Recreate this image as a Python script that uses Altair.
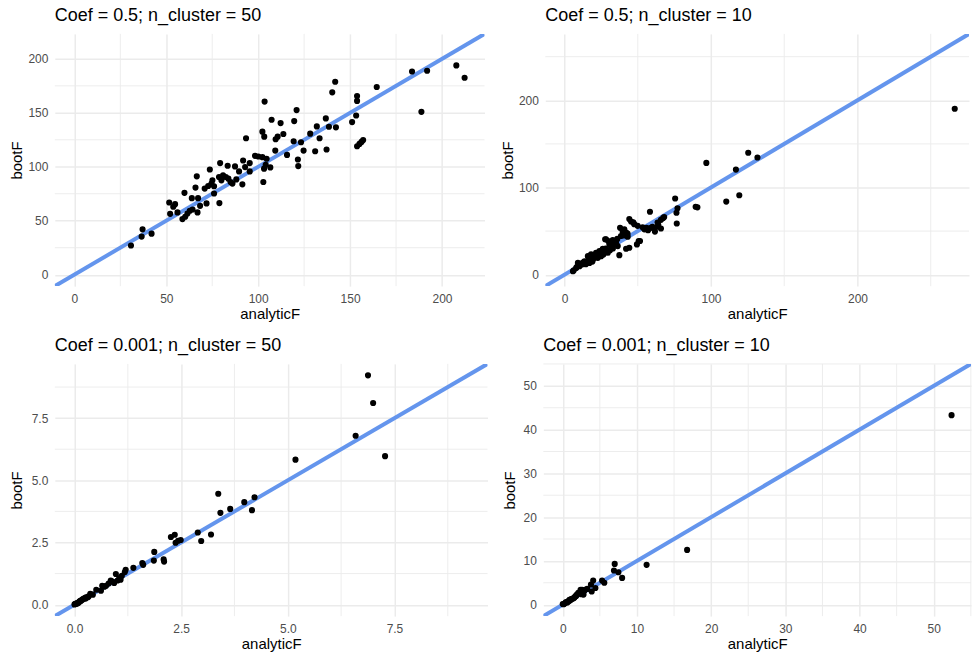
import altair as alt
import pandas as pd

FONT = "Liberation Sans"
GRID = "#EBEBEB"
LINE_BLUE = "#6495ED"

# ---- Panel 1: Coef = 0.5; n_cluster = 50 ----
p1_analytic = [30.8, 36.6, 37.1, 42.0, 51.6, 52.1, 53.8, 54.8, 56.1, 58.8, 59.9, 60.3, 61.5, 62.8,
               63.9, 64.3, 65.9, 66.6, 67.0, 67.3, 68.4, 70.9, 71.9, 72.8, 73.7, 74.6, 75.1, 76.0,
               76.0, 78.7, 78.9, 79.3, 80.0, 80.9, 82.4, 83.4, 83.8, 85.0, 86.0, 87.4, 88.1, 89.6,
               91.4, 91.8, 92.9, 93.4, 95.4, 95.4, 98.3, 100.1, 102.3, 102.3, 102.8, 103.2, 103.3,
               103.5, 104.1, 104.6, 106.6, 107.3, 109.3, 109.5, 110.6, 112.2, 113.7, 115.7, 119.3,
               119.6, 120.9, 121.6, 121.8, 123.3, 124.7, 128.3, 131.0, 131.9, 133.4, 136.8, 137.2,
               138.5, 140.3, 141.9, 142.3, 151.1, 153.3, 153.8, 153.8, 153.8, 155.1, 156.2, 157.1,
               164.5, 183.7, 188.8, 191.9, 207.8, 212.3]
p1_boot = [27.0, 35.3, 42.0, 38.0, 66.9, 56.4, 62.9, 65.3, 57.7, 51.5, 75.8, 53.7, 56.7, 59.2,
           70.9, 60.4, 80.7, 91.1, 57.7, 70.9, 63.8, 79.8, 66.0, 82.2, 97.5, 84.4, 87.4, 75.2,
           81.9, 90.5, 66.3, 103.4, 87.4, 92.0, 90.5, 100.9, 89.0, 85.9, 84.4, 100.3, 88.3, 95.7,
           83.7, 105.8, 99.7, 126.4, 103.4, 95.7, 110.1, 109.5, 108.9, 132.5, 85.9, 98.2, 127.9,
           160.4, 101.8, 107.4, 99.4, 143.6, 115.0, 125.5, 127.9, 140.5, 130.4, 111.0, 123.6,
           142.3, 152.5, 106.7, 100.6, 122.7, 115.0, 130.7, 114.4, 137.4, 126.4, 144.8, 116.0,
           137.1, 169.0, 178.8, 136.5, 141.4, 147.5, 165.6, 161.0, 119.0, 121.2, 123.0, 124.8,
           173.9, 188.3, 150.9, 189.0, 193.9, 182.5]

# ---- Panel 2: Coef = 0.5; n_cluster = 10 ----
p2_analytic = [266.4, 96.8, 125.4, 131.7, 117.0, 119.3, 110.4, 90.7, 89.5, 75.5, 77.1, 76.4, 76.6,
               58.3, 67.3, 65.8, 63.5, 61.7, 65.8, 59.0, 56.0, 53.3, 49.9, 47.6, 44.2, 45.4, 50.6,
               49.4, 44.2, 42.0, 37.9, 40.8, 42.0, 43.1, 38.5, 37.4, 35.1, 32.9, 31.7, 28.3, 29.5,
               26.1, 23.8, 21.5, 20.4, 18.1, 17.0, 15.9, 13.6, 11.8, 10.2, 7.9, 6.3, 5.7, 9.1, 24.9,
               22.7, 27.2, 19.3, 30.6, 36.3, 39.7, 46.9, 40.1, 51.5, 33.3, 29.9, 27.7, 14.5, 12.5,
               8.5, 16.5, 19.0, 21.0, 23.0, 25.0, 26.5, 28.0, 31.0, 33.0, 34.5, 36.0, 41.0, 43.0,
               54.5, 57.0, 60.0, 62.0, 64.0, 68.0]
p2_boot = [190.3, 128.2, 139.8, 134.4, 120.5, 91.1, 83.8, 77.2, 77.9, 87.3, 76.1, 71.0, 58.7,
           72.2, 64.9, 62.9, 59.8, 49.4, 52.9, 53.7, 53.7, 54.4, 56.0, 57.9, 63.7, 61.0, 38.6,
           34.7, 30.9, 29.7, 53.7, 52.1, 48.3, 43.6, 44.4, 22.4, 36.7, 39.8, 32.8, 40.5, 25.1,
           29.7, 27.0, 25.1, 19.3, 23.2, 13.5, 21.2, 15.4, 11.6, 9.7, 7.7, 5.0, 3.9, 13.5, 21.2,
           19.3, 25.9, 17.4, 34.7, 32.8, 49.0, 59.9, 50.2, 38.6, 34.8, 38.6, 40.6, 12.0, 14.0,
           9.0, 18.0, 15.0, 22.0, 24.0, 27.0, 23.0, 30.0, 28.0, 30.0, 38.0, 41.0, 45.0, 47.0,
           52.0, 51.0, 55.0, 54.0, 57.0, 66.0]

# ---- Panel 3: Coef = 0.001; n_cluster = 50 ----
p3_analytic = [6.88, 7.00, 6.59, 7.28, 5.18, 3.37, 3.42, 3.65, 3.98, 4.22, 4.16, 2.89, 2.97, 3.20,
               2.26, 2.35, 2.37, 2.43, 2.49, 1.87, 1.86, 2.09, 2.10, 1.61, 1.59, 1.38, 1.20, 1.18,
               1.11, 0.97, 0.93, 1.01, 1.05, 0.89, 0.85, 0.74, 0.65, 0.62, 0.51, 0.37, 0.33, 0.27,
               0.21, 0.16, 0.10, 0.04, 0.00, 0.08, 0.26, 0.43, 0.12, 0.02, 0.06, 0.19, 0.31, 0.70,
               0.80, 1.08, 0.14, 0.24]
p3_boot = [9.22, 8.11, 6.79, 5.97, 5.83, 4.46, 3.69, 3.85, 4.12, 4.32, 3.80, 2.90, 2.56, 2.82,
           2.72, 2.81, 2.49, 2.57, 2.60, 2.12, 1.77, 1.82, 1.73, 1.60, 1.67, 1.48, 1.40, 1.31,
           1.16, 1.23, 0.87, 0.97, 1.07, 0.93, 0.97, 0.76, 0.76, 0.56, 0.60, 0.43, 0.33, 0.29,
           0.23, 0.17, 0.09, 0.04, 0.01, 0.07, 0.25, 0.40, 0.13, 0.03, 0.05, 0.21, 0.30, 0.72,
           0.85, 1.00, 0.15, 0.26]

# ---- Panel 4: Coef = 0.001; n_cluster = 10 ----
p4_analytic = [52.4, 16.76, 11.3, 7.0, 6.9, 7.5, 8.0, 5.3, 5.6, 4.1, 3.8, 4.4, 3.3, 2.9, 2.4, 2.2,
               2.8, 3.9, 2.6, 2.1, 1.7, 1.2, 0.8, 0.35, 0.0, 3.0, 1.9, 1.5, 1.0, 0.6, 0.2, 0.45,
               0.9, 1.35, 1.8, 2.5, 0.1, 0.7, 1.1, 1.6]
p4_boot = [43.3, 12.5, 9.1, 9.3, 7.8, 7.4, 6.1, 5.5, 5.0, 5.5, 4.6, 3.8, 3.6, 3.2, 3.4, 2.6,
           2.3, 3.0, 3.4, 2.7, 1.9, 1.3, 0.8, 0.4, 0.15, 3.4, 2.3, 1.5, 1.0, 0.5, 0.2, 0.6,
           1.1, 1.4, 2.0, 2.4, 0.1, 0.7, 1.2, 1.7]

TITLES = ["Coef = 0.5; n_cluster = 50", "Coef = 0.5; n_cluster = 10",
          "Coef = 0.001; n_cluster = 50", "Coef = 0.001; n_cluster = 10"]
# shared axis limits (0 to upper) for each panel, before the 5% padding
UPPER = [212.5, 263.0, 9.22, 52.4]
MAJOR = [[0, 50, 100, 150, 200], [0, 100, 200], [0, 2.5, 5, 7.5], [0, 10, 20, 30, 40, 50]]
MINOR = [[25, 75, 125, 175], [50, 150, 250], [1.25, 3.75, 6.25, 8.75], [5, 15, 25, 35, 45, 55]]
FORMATS = ["d", "d", ".1f", "d"]


def panel(xs, ys, title, upper, major, minor, fmt, width, title_x):
    lo, hi = -0.05 * upper, 1.05 * upper
    sc = alt.Scale(domain=[lo, hi], nice=False, zero=False)
    minor_in = [m for m in minor if lo <= m <= hi]

    pts = pd.DataFrame({"analyticF": xs, "bootF": ys})
    vgrid = pd.DataFrame({"analyticF": minor_in})
    hgrid = pd.DataFrame({"bootF": minor_in})
    diag = pd.DataFrame({"analyticF": [lo, hi], "bootF": [lo, hi]})

    xaxis = alt.Axis(values=major, format=fmt, title="analyticF")
    yaxis = alt.Axis(values=major, format=fmt, title="bootF", titleX=title_x)
    xenc = alt.X("analyticF:Q", scale=sc, axis=xaxis)
    yenc = alt.Y("bootF:Q", scale=sc, axis=yaxis)

    v = alt.Chart(vgrid).mark_rule(color=GRID, strokeWidth=0.9).encode(x=xenc)
    h = alt.Chart(hgrid).mark_rule(color=GRID, strokeWidth=0.9).encode(y=yenc)
    ab = alt.Chart(diag).mark_line(color=LINE_BLUE, strokeWidth=4, clip=True).encode(
        x=xenc, y=yenc)
    pt = alt.Chart(pts).mark_circle(size=38, color="black", opacity=1, clip=True).encode(
        x=xenc, y=yenc)

    return alt.layer(v, h, ab, pt).properties(
        width=width, height=253,
        title=alt.TitleParams(text=title, anchor="start", frame="group", fontSize=18,
                              font=FONT, fontWeight="normal", color="black", offset=8))


p1 = panel(p1_analytic, p1_boot, TITLES[0], UPPER[0], MAJOR[0], MINOR[0], FORMATS[0], 431, -30)
p2 = panel(p2_analytic, p2_boot, TITLES[1], UPPER[1], MAJOR[1], MINOR[1], FORMATS[1], 425, -30)
p3 = panel(p3_analytic, p3_boot, TITLES[2], UPPER[2], MAJOR[2], MINOR[2], FORMATS[2], 434, -30)
p4 = panel(p4_analytic, p4_boot, TITLES[3], UPPER[3], MAJOR[3], MINOR[3], FORMATS[3], 429, -26)

top_row = alt.hconcat(p1, p2, spacing=15)
bottom_row = alt.hconcat(p3, p4, spacing=14)

chart = alt.vconcat(top_row, bottom_row, spacing=16).properties(
    padding={"left": 10, "top": 6, "right": 0, "bottom": 0}
).configure_view(stroke=None).configure_axis(
    grid=True, gridColor=GRID, gridWidth=1.5,
    domain=False, ticks=False, tickSize=0,
    labelFont=FONT, labelFontSize=12, labelColor="#4D4D4D", labelPadding=7,
    labelFlush=False, labelOverlap=False,
    titleFont=FONT, titleFontSize=15, titleColor="black", titleFontWeight="normal",
    titlePadding=2,
)

chart.save("out.html", embed_options={"renderer": "svg", "actions": False})
